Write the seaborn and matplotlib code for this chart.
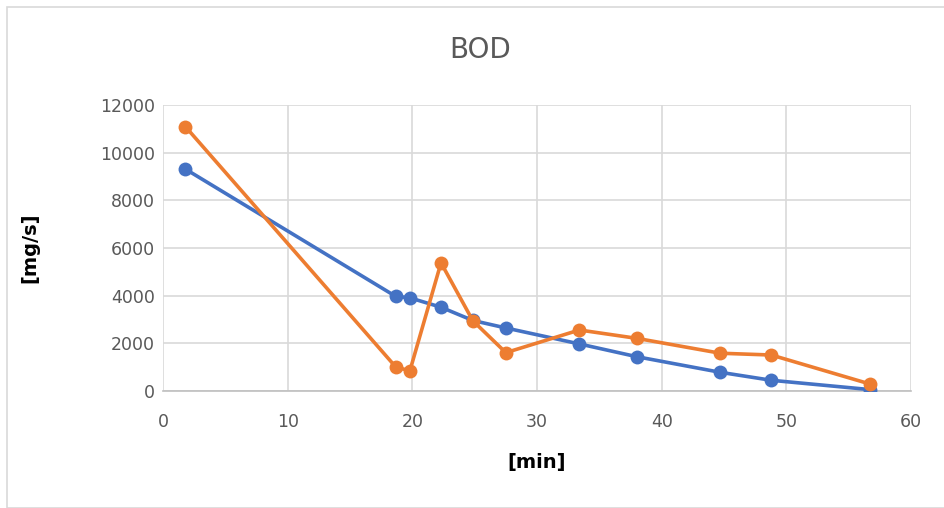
import pandas as pd
import seaborn as sns
import matplotlib.pyplot as plt
from matplotlib.patches import Rectangle

# values
minutes = [1.8, 18.65, 19.8, 22.3, 24.85, 27.5, 33.4, 38.0, 44.7, 48.8, 56.7]
bod_blue = [9310, 3975, 3910, 3515, 2960, 2645, 1975, 1440, 785, 450, 60]
bod_orange = [11090, 1020, 840, 5380, 2950, 1610, 2560, 2210, 1585, 1510, 295]

sns.set_theme(style="white")
plt.rcParams['font.family'] = ['DejaVu Sans']

fig = plt.figure(figsize=(9.45, 5.08), dpi=100)
ax = fig.add_axes([0.1725, 0.2303, 0.964 - 0.1725, 0.7933 - 0.2303])

# chart border
fig.patches.append(Rectangle((7 / 945, 0.0), 1.0, 1 - 7 / 508, transform=fig.transFigure,
                             fill=False, edgecolor='#d9d9d9', linewidth=1.2))

sns.lineplot(x=minutes, y=bod_blue, ax=ax, sort=False, color='#4472C4', linewidth=2.6,
             marker='o', markersize=10, markeredgewidth=0, zorder=3)
sns.lineplot(x=minutes, y=bod_orange, ax=ax, sort=False, color='#ED7D31', linewidth=2.6,
             marker='o', markersize=10, markeredgewidth=0, zorder=4)

ax.set_xlim(0, 60)
ax.set_ylim(0, 12000)
ax.set_xticks(range(0, 61, 10))
ax.set_yticks(range(0, 12001, 2000))
ax.grid(True, color='#d9d9d9', linewidth=1.2)
ax.set_axisbelow(True)
for s in ['top', 'right', 'left']:
    ax.spines[s].set_visible(False)
ax.spines['bottom'].set_color('#bfbfbf')
ax.spines['bottom'].set_linewidth(1.2)
ax.tick_params(axis='both', length=0, labelsize=12.5, colors='#595959')
ax.tick_params(axis='x', pad=16)
ax.tick_params(axis='y', pad=6)

fig.text(480 / 945, 1 - 50 / 508, 'BOD', fontsize=20, color='#595959', ha='center', va='center')
ax.set_xlabel('[min]', fontsize=14, fontweight='bold', color='black', labelpad=16)
ax.set_ylabel('[mg/s]', fontsize=14, fontweight='bold', color='black')
ax.yaxis.set_label_coords(-0.165, 0.5)

fig.savefig('out.png', dpi=100)
